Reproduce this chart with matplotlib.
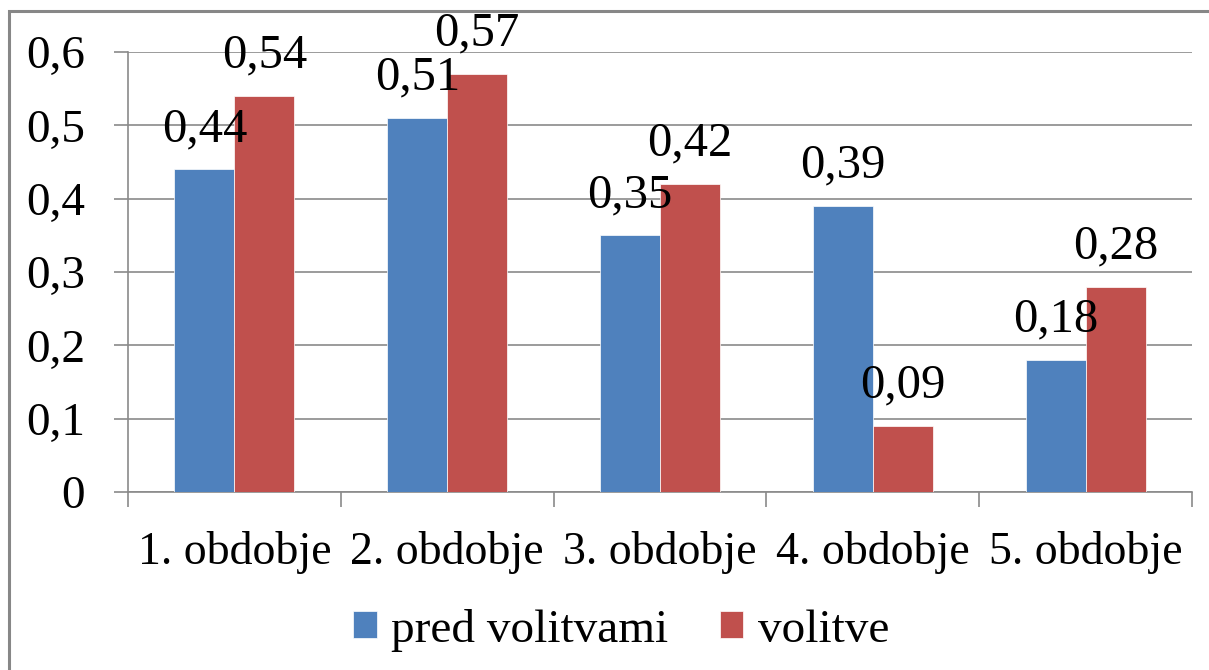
import matplotlib
matplotlib.use('Agg')
import matplotlib.pyplot as plt
import numpy as np
from matplotlib.patches import Rectangle

# podatki
obdobja = ['1. obdobje', '2. obdobje', '3. obdobje', '4. obdobje', '5. obdobje']
pred_volitvami = [0.44, 0.51, 0.35, 0.39, 0.18]
volitve = [0.54, 0.57, 0.42, 0.09, 0.28]
y_ticks = [0, 0.1, 0.2, 0.3, 0.4, 0.5, 0.6]

plt.rcParams['font.family'] = ['Liberation Serif', 'DejaVu Serif']

fig = plt.figure(figsize=(12.09, 6.70), dpi=100)
ax = fig.add_axes([128 / 1209, 1 - 492 / 670, (1192 - 128) / 1209, (492 - 52) / 670])

x = np.arange(len(obdobja))
w = 0.282
b1 = ax.bar(x - w / 2, pred_volitvami, w, color='#4F81BD', edgecolor='white', linewidth=0.5,
            label='pred volitvami', zorder=3)
b2 = ax.bar(x + w / 2, volitve, w, color='#C0504D', edgecolor='white', linewidth=0.5,
            label='volitve', zorder=3)

for bars, vals in [(b1, pred_volitvami), (b2, volitve)]:
    for r, v in zip(bars, vals):
        ax.annotate(f'{v:.2f}'.replace('.', ','), (r.get_x() + r.get_width() / 2, v),
                    xytext=(0, 13), textcoords='offset points', ha='center', va='bottom',
                    fontsize=35, zorder=4)

ax.set_xlim(-0.5, len(obdobja) - 0.5)
ax.set_ylim(0, 0.6)
ax.set_yticks(y_ticks)
ax.set_yticklabels([str(t).replace('.', ',') if t else '0' for t in y_ticks], fontsize=34)
ax.yaxis.grid(True, color='#8a8a8a', linewidth=1.2, zorder=0)
ax.tick_params(axis='y', length=10, width=1.2, color='#8a8a8a', pad=21)

ax.set_xticks(x)
ax.set_xticklabels(obdobja, fontsize=33)
ax.tick_params(axis='x', which='major', length=0, pad=28)
ax.set_xticks(np.arange(len(obdobja) + 1) - 0.5, minor=True)
ax.tick_params(axis='x', which='minor', length=11, width=1.2, color='#8a8a8a')

for s in ['top', 'right']:
    ax.spines[s].set_visible(False)
for s in ['left', 'bottom']:
    ax.spines[s].set_color('#8a8a8a')
    ax.spines[s].set_linewidth(1.2)

fig.legend(handles=[b1, b2], loc='center', bbox_to_anchor=(621 / 1209, 1 - 630 / 670), ncol=2,
           frameon=False, fontsize=34, handlelength=0.5, handleheight=0.5, handletextpad=0.3,
           columnspacing=1.1)

fig.patches.append(Rectangle((9 / 1209, -0.1), 1.2, 1.1 - 11 / 670, transform=fig.transFigure,
                             fill=False, edgecolor='#878787', linewidth=2.2))

fig.savefig('out.png', dpi=100)
